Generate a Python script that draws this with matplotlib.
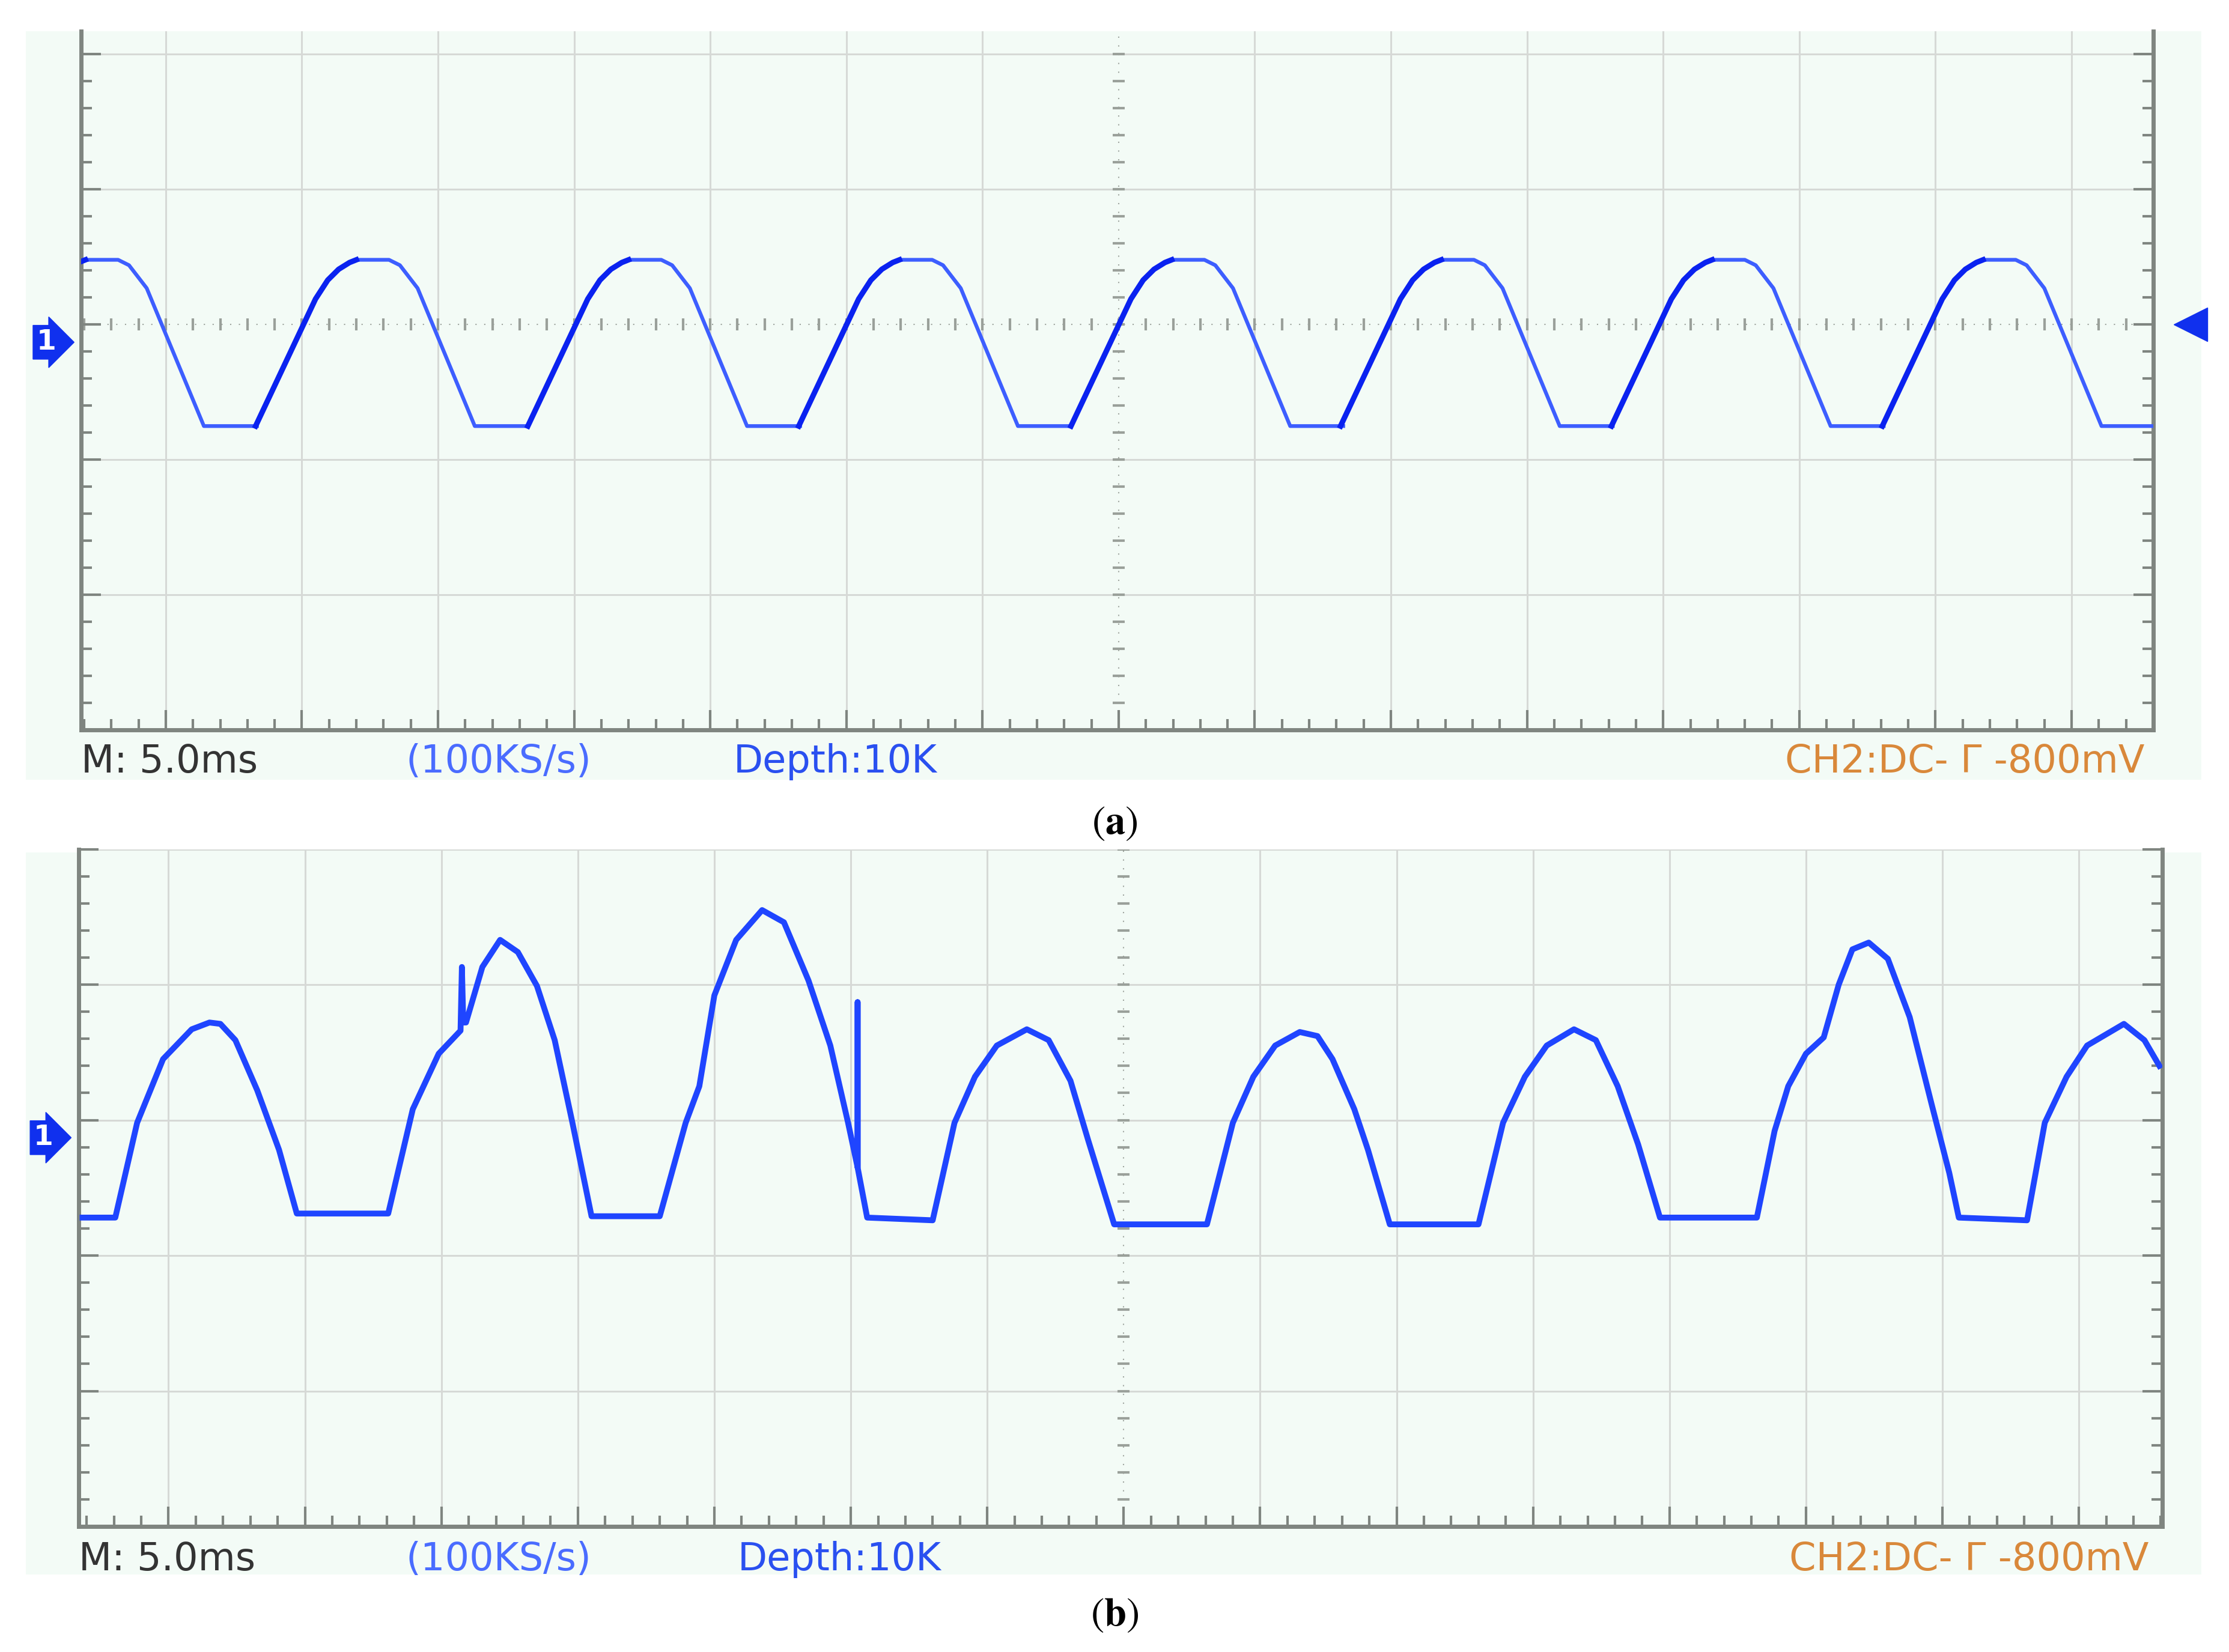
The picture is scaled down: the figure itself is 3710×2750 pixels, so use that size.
import numpy as np
import matplotlib.pyplot as plt
from matplotlib.patches import Rectangle

# screen divisions (5 ms/div horizontally)
# panel (a): one clipped half-wave shape, repeated at each peak position
peak_pos_a = [-7.47, -5.48, -3.48, -1.49, 0.51, 2.49, 4.48, 6.47]
shape_dx = [-0.86, -0.42, -0.33, -0.25, -0.17, -0.12, 0.12, 0.20, 0.33, 0.75, 1.14]
shape_y = [-0.75, 0.19, 0.33, 0.41, 0.46, 0.48, 0.48, 0.44, 0.27, -0.75, -0.75]

# panel (b): distorted trace, vertices
trace_b_x = [-7.63, -7.39, -7.23, -7.04, -6.83, -6.70, -6.62, -6.51, -6.35, -6.19, -6.06,
             -5.39, -5.21, -5.02, -4.86, -4.85, -4.84, -4.82, -4.70, -4.57, -4.44, -4.30,
             -4.17, -4.04, -3.90, -3.40, -3.21, -3.11, -3.00, -2.84, -2.65, -2.49, -2.31,
             -2.15, -2.02, -1.95, -1.95, -1.95, -1.88, -1.40, -1.24, -1.09, -0.93, -0.71,
             -0.55, -0.39, -0.26, -0.07, 0.61, 0.80, 0.95, 1.11, 1.29, 1.42, 1.53, 1.69,
             1.79, 1.95, 2.60, 2.78, 2.94, 3.10, 3.30, 3.46, 3.62, 3.77, 3.93, 4.64, 4.77,
             4.87, 5.00, 5.13, 5.24, 5.34, 5.46, 5.60, 5.76, 5.92, 6.05, 6.12, 6.62, 6.75,
             6.91, 7.06, 7.33, 7.48, 7.59]
trace_b_y = [-0.72, -0.72, -0.02, 0.45, 0.67, 0.72, 0.71, 0.59, 0.22, -0.22, -0.69,
             -0.69, 0.08, 0.49, 0.66, 1.13, 0.72, 0.72, 1.13, 1.33, 1.24, 0.99,
             0.59, -0.02, -0.71, -0.71, -0.02, 0.25, 0.92, 1.33, 1.55, 1.46, 1.03,
             0.55, -0.02, -0.35, 0.87, -0.35, -0.72, -0.74, -0.02, 0.32, 0.55, 0.67,
             0.59, 0.29, -0.15, -0.77, -0.77, -0.02, 0.32, 0.55, 0.65, 0.62, 0.45, 0.08,
             -0.22, -0.77, -0.77, -0.02, 0.32, 0.55, 0.67, 0.59, 0.25, -0.18, -0.72, -0.72,
             -0.08, 0.25, 0.49, 0.61, 1.00, 1.26, 1.31, 1.19, 0.76, 0.12, -0.39, -0.72,
             -0.74, -0.02, 0.32, 0.55, 0.71, 0.59, 0.40]

status_texts = ["M: 5.0ms", "(100KS/s)", "Depth:10K", "CH2:DC- \u0393 -800mV"]

bg = '#f3fbf6'
grid_c = '#d6d9d6'
axis_c = '#7f8580'
trace_c = '#1f45ff'

fig = plt.figure(figsize=(37.1, 27.5), dpi=100)


def scope(rect, bgrect, xlim, ylim, dotted_h):
    fig.patches.append(Rectangle(bgrect[:2], bgrect[2], bgrect[3], transform=fig.transFigure,
                                 facecolor=bg, edgecolor='none', zorder=-5))
    ax = fig.add_axes(rect)
    ax.set_zorder(2)
    ax.set_facecolor(bg)
    ax.set_xlim(*xlim)
    ax.set_ylim(*ylim)
    ax.set_xticks(np.arange(-7, 8))
    ax.set_yticks(np.arange(-2, 3))
    ax.set_xticks(np.arange(-7.6, 7.61, 0.2), minor=True)
    ax.set_yticks(np.arange(-3, 2.2, 0.2), minor=True)
    ax.tick_params(which='both', direction='in', color=axis_c, width=3,
                   labelbottom=False, labelleft=False, left=True, right=True, top=False)
    ax.tick_params(which='major', length=24)
    ax.tick_params(which='minor', length=13)
    for s in ['left', 'right', 'bottom']:
        ax.spines[s].set_color(axis_c)
        ax.spines[s].set_linewidth(5)
    ax.spines['top'].set_visible(False)
    for x in range(-7, 8):
        if x != 0:
            ax.axvline(x, color=grid_c, lw=2.2, zorder=1)
    for y in range(-2, 3):
        if not (dotted_h and y == 0):
            ax.axhline(y, color=grid_c, lw=2.2, zorder=1)
    # dotted centre lines with small ticks
    ax.axvline(0, color='#a0a6a0', lw=1.5, ls=(0, (1, 6)), zorder=1)
    yt = np.arange(-3, 2.2, 0.2)
    ax.plot(np.zeros_like(yt), yt, ls='none', marker='_', ms=14, mew=3, color='#9aa09a', zorder=1)
    if dotted_h:
        ax.axhline(0, color='#a0a6a0', lw=1.5, ls=(0, (1, 6)), zorder=1)
        xt = np.arange(-7.6, 7.61, 0.2)
        ax.plot(xt, np.zeros_like(xt), ls='none', marker='|', ms=14, mew=3, color='#9aa09a', zorder=1)
    # channel marker
    ax.annotate('1', xy=(0, -0.13), xycoords=('axes fraction', 'data'), xytext=(-42, 0),
                textcoords='offset points', ha='center', va='center', color='white',
                fontsize=34, fontweight='bold', annotation_clip=False,
                bbox=dict(boxstyle='rarrow,pad=0.12', fc='#1030ee', ec='#1030ee'))
    return ax


def status(y, xs):
    cols = ['#333333', '#4a6cff', '#2a50f0', '#d9883a']
    for i, t in enumerate(status_texts):
        fig.text(xs[i], y, t, color=cols[i], fontsize=46, ha='right' if i == 3 else 'left',
                 va='center', family='DejaVu Sans')


# panel (a)
ax1 = scope([0.0365, 0.558, 0.9295, 0.423], [0.0115, 0.528, 0.976, 0.453],
            (-7.62, 7.59), (-3, 2.17), True)
for p in peak_pos_a:
    xs = [p + d for d in shape_dx]
    ax1.plot(xs, shape_y, color='#3d5eff', lw=4.5, zorder=3, solid_joinstyle='round')
    ax1.plot(xs[:6], shape_y[:6], color='#0a22f0', lw=6.5, zorder=4, solid_joinstyle='round')
ax1.plot([1.018], [0], marker='<', ms=40, color='#1030ee', transform=ax1.get_yaxis_transform(),
         clip_on=False, zorder=5)
status(0.539, [0.0365, 0.182, 0.329, 0.962])
fig.text(0.5, 0.502, r'$(\mathbf{a})$', ha='center', va='center', fontsize=48,
         math_fontfamily='stix')

# panel (b)
ax2 = scope([0.0352, 0.076, 0.9348, 0.410], [0.0115, 0.047, 0.976, 0.437],
            (-7.66, 7.61), (-3, 1.93), False)
ax2.plot(trace_b_x, trace_b_y, color=trace_c, lw=7, zorder=3, solid_joinstyle='round')
status(0.056, [0.0352, 0.182, 0.331, 0.964])
fig.text(0.5, 0.023, r'$(\mathbf{b})$', ha='center', va='center', fontsize=48,
         math_fontfamily='stix')

fig.savefig('out.png', dpi=100, facecolor='white')
